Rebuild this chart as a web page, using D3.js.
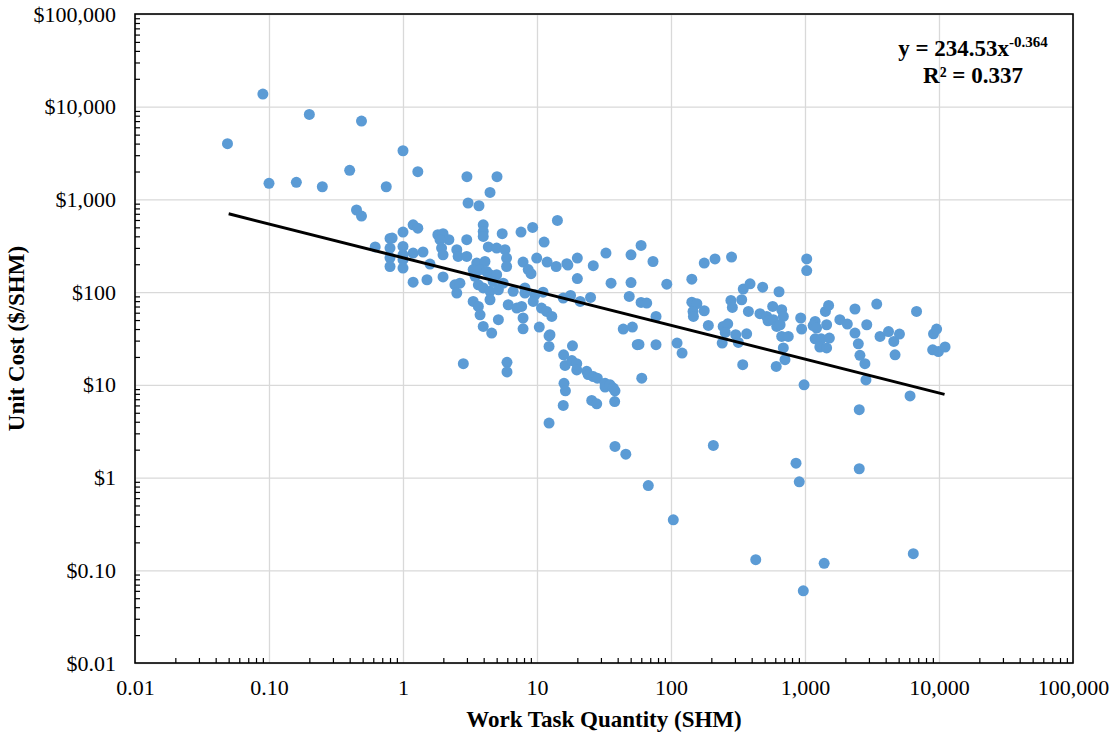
<!DOCTYPE html>
<html>
<head>
<meta charset="utf-8">
<script src="https://cdn.jsdelivr.net/npm/d3@7"></script>
<style>
  body { margin: 0; background: #fff; }
  svg { display: block; font-family: 'Liberation Serif', 'Times New Roman', serif; }
  .tick-label { font-size: 22px; fill: #000; }
  .axis-title { font-size: 23px; font-weight: bold; fill: #000; }
  .equation { font-size: 23px; font-weight: bold; fill: #000; }
</style>
</head>
<body>
<svg width="1110" height="734"></svg>
<script>
// work task quantity (SHM) and unit cost ($/SHM)
const workQty = [
  0.049, 0.090, 0.20, 0.49, 1.0, 0.10, 0.16, 0.25, 0.40, 0.75, 0.45, 0.49, 1.29,
  0.62, 0.80, 1.0, 0.80, 1.0, 1.19, 1.29, 0.83, 0.80, 0.80, 1.0, 1.0, 1.19, 1.41, 1.59, 1.19, 1.51, 1.0,
  1.82, 1.99, 2.2, 1.89, 1.94, 1.99, 2.52, 2.58, 2.99, 2.99, 1.99, 2.44, 2.66, 2.52,
  3.97, 3.97, 3.97, 5.5, 4.33, 5.0, 5.77, 5.93, 5.93, 7.6, 9.28, 14.2, 11.3, 9.95, 11.9, 13.9, 16.7,
  7.87, 8.6, 9.02, 3.55, 4.09, 3.34, 3.76, 4.21, 3.45, 4.46, 5.0, 4.71, 5.6, 3.65, 3.97, 4.46, 5.15,
  6.64, 8.13, 8.13, 9.66, 11.1, 3.34, 3.65, 4.46, 6.1, 7.06, 7.68, 9.37, 10.8, 11.8, 12.9, 3.76, 5.15,
  7.87, 3.97, 4.59, 7.87, 10.4, 12.5, 15.7, 3.06, 3.69, 4.46, 3.0, 5.03,
  2.82, 5.97, 5.97, 12.3, 12.3, 18.4, 15.8, 16.2, 18.2, 19.8, 19.8, 23.5, 24.1, 26.3, 28.2, 32.2, 32.2,
  35.1, 37.1, 38.2, 15.9, 16.3, 15.7, 25.6, 27.9, 38, 12.3, 38.2, 46, 56, 60.5,
  20, 17, 26.3, 32.7, 50.3, 59.8, 73.4, 20, 35.7, 50.3, 93, 143, 177, 213, 283, 17.8, 21, 25.1, 48.8,
  59.8, 65.9, 77.3, 44, 51.5, 57.7, 77.3, 111, 121, 143, 156, 146, 147, 177, 190, 245, 265, 254, 241,
  304, 318, 367, 280, 287, 337, 346, 389, 483, 378, 461, 518, 530, 574, 640, 580, 615, 343, 610, 670,
  689, 652, 670, 750, 689, 709, 1030, 1030, 984, 929, 944, 1190, 1150, 1220, 1450, 1420, 1500, 1190,
  1320, 1520, 1290, 1450, 1820, 2070, 2360, 2360, 2500, 2570, 2800, 2890, 2850, 3430, 3630, 4200,
  4600, 5070, 4700, 6800, 6080, 9100, 9600, 8970, 9900, 11100, 2540,
  67.7, 104, 207, 857, 906, 2540, 429, 1390, 971, 6430
];
const unitCost = [
  3990, 13700, 8260, 7010, 3350, 1490, 1530, 1370, 2060, 1370, 769, 662, 1990,
  307, 380, 445, 299, 311, 533, 490, 383, 235, 189, 224, 182, 264, 271, 201, 128, 136, 253,
  416, 427, 368, 368, 299, 253, 287, 243, 243, 368, 146, 120, 125, 97.8,
  533, 451, 399, 427, 307, 299, 287, 233, 189, 445, 499, 593, 347, 233, 211, 189, 203,
  211, 175, 158, 206, 214, 175, 175, 167, 148, 154, 154, 130, 125, 120, 111, 102, 106,
  102, 111, 97.8, 93.7, 100, 79.4, 70.1, 82.8, 73.1, 67.3, 70.1, 79.4, 67.3, 61.9, 54.7, 57, 50.4,
  52.6, 42.7, 36.2, 40.2, 42, 34.7, 86.4, 915, 855, 1190, 1760, 1760,
  16.9, 17.5, 13.8, 33.8, 26, 26.4, 21.1, 16.2, 18.3, 16.9, 14.5, 14, 12.9, 12.3, 11.8, 10.4, 9.46,
  10, 9.23, 8.63, 10.4, 8.63, 6.0, 6.8, 6.25, 6.6, 3.87, 2.17, 1.79, 27.1, 11.8,
  233, 196, 193, 264, 253, 319, 214, 140, 125, 127, 122, 138, 206, 228, 239, 92, 79.4, 87.7, 89.9,
  77.4, 76.3, 54.7, 40, 42, 27.3, 27.1, 28.2, 22, 78, 75, 61.9, 54.7, 63, 43.7, 42.7, 45.5, 36.8, 28.2,
  34.7, 28.7, 35.5, 81.4, 68.4, 82.8, 108, 123, 113, 61.9, 58.5, 54.7, 49.1, 70.1, 101, 50.4, 42.7, 16.5, 15.8, 64.6,
  54.7, 44.5, 33.3, 33.3, 25, 18.7, 228, 171, 10, 52.6, 40, 48.3, 43.6, 41, 44.5, 61.9, 71.9, 31.4,
  31.4, 32, 25.6, 25, 50.4, 45.3, 65.8, 36.2, 27.7, 20.8, 16.9, 44.5, 11.3, 74.4, 33.3, 37.6,
  29.4, 35.3, 21.1, 61.9, 7.6, 35.5, 40, 23.9, 22.9, 25.6, 5.4,
  0.82, 0.35, 2.22, 1.43, 0.90, 1.245, 0.13, 0.119, 0.060, 0.151
];

// power trendline end points (y = 234.53x^-0.364)
const trendQty = [0.05, 11000];
const trendCost = [700, 7.9];

const xTickValues = [0.01, 0.1, 1, 10, 100, 1000, 10000, 100000];
const xTickLabels = ['0.01', '0.10', '1', '10', '100', '1,000', '10,000', '100,000'];
const yTickValues = [0.01, 0.1, 1, 10, 100, 1000, 10000, 100000];
const yTickLabels = ['$0.01', '$0.10', '$1', '$10', '$100', '$1,000', '$10,000', '$100,000'];

const svg = d3.select('svg');
const width = +svg.attr('width');
const height = +svg.attr('height');

const margin = { top: 14, right: 37, bottom: 71, left: 135 };
const innerWidth = width - margin.left - margin.right;
const innerHeight = height - margin.top - margin.bottom;

const xScale = d3.scaleLog().domain([0.01, 100000]).range([0, innerWidth]);
const yScale = d3.scaleLog().domain([0.01, 100000]).range([innerHeight, 0]);

const g = svg.append('g')
  .attr('transform', `translate(${margin.left},${margin.top})`);

// d3 axes put their own font on the group; let the page font through
const plain = sel => sel.attr('font-family', null).attr('font-size', null);

// gridlines
const xGrid = g.append('g')
  .attr('transform', `translate(0,${innerHeight})`)
  .call(d3.axisBottom(xScale).tickValues(xTickValues).tickSize(-innerHeight).tickFormat(''));
const yGrid = g.append('g')
  .call(d3.axisLeft(yScale).tickValues(yTickValues).tickSize(-innerWidth).tickFormat(''));
[xGrid, yGrid].forEach(sel => {
  sel.select('.domain').remove();
  sel.selectAll('line').attr('stroke', '#d9d9d9').attr('stroke-width', 1.3);
});

// minor ticks, pointing into the plot
const isMajor = d => Math.abs(Math.log10(d) - Math.round(Math.log10(d))) < 1e-9;
const xMinor = xScale.ticks().filter(d => !isMajor(d));
const yMinor = yScale.ticks().filter(d => !isMajor(d));

const xMinorG = g.append('g')
  .attr('transform', `translate(0,${innerHeight})`)
  .call(d3.axisBottom(xScale).tickValues(xMinor).tickSize(-5).tickFormat(''));
const yMinorG = g.append('g')
  .call(d3.axisLeft(yScale).tickValues(yMinor).tickSize(-5).tickFormat(''));
[xMinorG, yMinorG].forEach(sel => {
  sel.select('.domain').remove();
  sel.selectAll('line').attr('stroke', '#000').attr('stroke-width', 1.2);
});

// tick labels
const xAxisG = g.append('g')
  .attr('transform', `translate(0,${innerHeight})`)
  .call(d3.axisBottom(xScale).tickValues(xTickValues)
    .tickFormat((d, i) => xTickLabels[i]).tickSize(0).tickPadding(16))
  .call(plain);
xAxisG.select('.domain').remove();
xAxisG.selectAll('text').attr('class', 'tick-label');

const yAxisG = g.append('g')
  .call(d3.axisLeft(yScale).tickValues(yTickValues)
    .tickFormat((d, i) => yTickLabels[i]).tickSize(0).tickPadding(19))
  .call(plain);
yAxisG.select('.domain').remove();
yAxisG.selectAll('text').attr('class', 'tick-label');

// plot border
g.append('rect')
  .attr('width', innerWidth)
  .attr('height', innerHeight)
  .attr('fill', 'none')
  .attr('stroke', '#000')
  .attr('stroke-width', 1.6);

// points
const points = workQty.map((q, i) => ({ q, c: unitCost[i] }));
g.selectAll('.dot').data(points)
  .enter().append('circle')
    .attr('class', 'dot')
    .attr('cx', d => xScale(d.q))
    .attr('cy', d => yScale(d.c))
    .attr('r', 5.5)
    .attr('fill', '#5b9bd5');

// trendline
const trend = trendQty.map((q, i) => ({ q, c: trendCost[i] }));
g.append('path')
  .datum(trend)
  .attr('d', d3.line().x(d => xScale(d.q)).y(d => yScale(d.c)))
  .attr('fill', 'none')
  .attr('stroke', '#000')
  .attr('stroke-width', 3);

// equation
const eq = g.append('text')
  .attr('class', 'equation')
  .attr('x', 838)
  .attr('y', 42)
  .attr('text-anchor', 'middle');
eq.append('tspan').text('y = 234.53x');
eq.append('tspan').attr('dy', -9).attr('font-size', 15).text('-0.364');
g.append('text')
  .attr('class', 'equation')
  .attr('x', 838)
  .attr('y', 69)
  .attr('text-anchor', 'middle')
  .text('R² = 0.337');

// axis titles
g.append('text')
  .attr('class', 'axis-title')
  .attr('x', innerWidth / 2)
  .attr('y', innerHeight + 64)
  .attr('text-anchor', 'middle')
  .text('Work Task Quantity (SHM)');

g.append('text')
  .attr('class', 'axis-title')
  .attr('transform', 'rotate(-90)')
  .attr('x', -innerHeight / 2)
  .attr('y', -111)
  .attr('text-anchor', 'middle')
  .text('Unit Cost ($/SHM)');
</script>
</body>
</html>
